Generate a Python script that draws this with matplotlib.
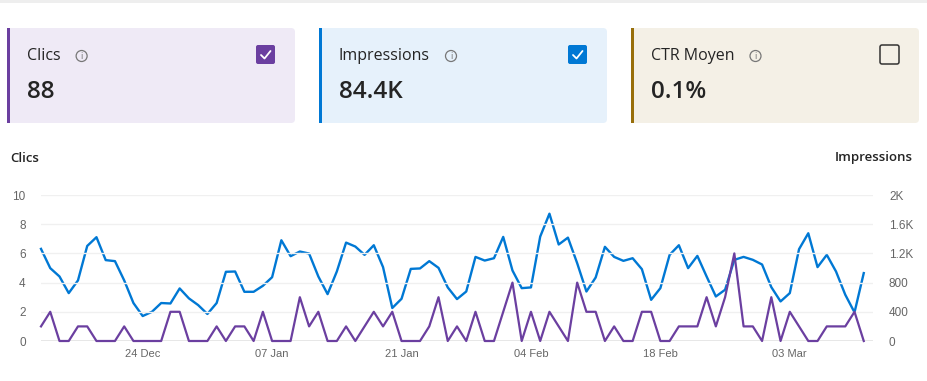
import matplotlib
matplotlib.use("Agg")
import matplotlib.pyplot as plt
import matplotlib.dates as mdates
from matplotlib.patches import FancyBboxPatch, Rectangle, Circle
import pandas as pd

# data (13 Dec 2023 -> 11 Mar 2024, daily)
dates = pd.date_range("2023-12-13", periods=90, freq="D")
clics = [1, 2, 0, 0, 1, 1, 0, 0, 0, 1, 0, 0, 0, 0, 2, 2, 0, 0, 0, 1,
         0, 1, 1, 0, 2, 0, 0, 0, 3, 1, 2, 0, 0, 1, 0, 1, 2, 1, 2, 0,
         0, 0, 1, 3, 0, 1, 0, 2, 0, 0, 2, 4, 0, 2, 0, 2, 1, 0, 4, 2,
         2, 0, 1, 0, 0, 2, 2, 0, 0, 1, 1, 1, 3, 1, 3, 6, 1, 1, 0, 3,
         0, 2, 1, 0, 0, 1, 1, 1, 2, 0]
impressions = [1262, 998, 884, 656, 830, 1302, 1422, 1108, 1094, 830,
               520, 342, 400, 520, 514, 720, 584, 492, 370, 520,
               948, 952, 674, 674, 756, 874, 1380, 1162, 1226, 1198,
               884, 642, 952, 1348, 1294, 1180, 1312, 1012, 452, 578,
               988, 994, 1094, 1002, 734, 574, 678, 1152, 1102, 1134,
               1426, 966, 724, 734, 1430, 1744, 1322, 1416, 1066, 678,
               870, 1290, 1152, 1098, 1134, 984, 564, 724, 1180, 1312,
               998, 1166, 884, 610, 702, 1112, 1152, 1112, 1048, 738,
               542, 656, 1258, 1476, 1012, 1180, 952, 634, 392, 930]
tick_dates = ["2023-12-24", "2024-01-07", "2024-01-21", "2024-02-04", "2024-02-18", "2024-03-03"]
left_ticks = [0, 2, 4, 6, 8, 10]
right_ticks = [0, 400, 800, 1200, 1600, 2000]
right_labels = ["0", "400", "800", "1.2K", "1.6K", "2K"]

cards = [
    ("Clics", "88", "#EFEAF6", "#6B3FA0", True),
    ("Impressions", "84.4K", "#E6F1FB", "#0078D4", True),
    ("CTR Moyen", "0.1%", "#F4F0E6", "#986F0B", False),
]
card_x = [7, 319, 631]
card_w = 288

PURPLE = "#6B3FA0"
BLUE = "#0078D4"
W, H = 927, 381

fig = plt.figure(figsize=(W / 100, H / 100), dpi=100)

# background layer in pixel coordinates
bg = fig.add_axes([0, 0, 1, 1])
bg.set_xlim(0, W)
bg.set_ylim(H, 0)
bg.axis("off")
bg.add_patch(Rectangle((0, 0), W, 3, color="#EEEEEE", lw=0))

for (title, value, face, edge, checked), x0 in zip(cards, card_x):
    bg.add_patch(FancyBboxPatch((x0, 28), card_w, 95, boxstyle="round,pad=0,rounding_size=4",
                                fc=face, ec="none"))
    bg.add_patch(Rectangle((x0, 28), 3, 95, color=edge, lw=0))
    t = bg.text(x0 + 20, 56, title, fontsize=11.5, family="Open Sans", color="#242424",
                va="center", ha="left")
    # info icon placed after the title
    fig.canvas.draw()
    bb = t.get_window_extent()
    ix = bb.x1 + 21
    bg.add_patch(Circle((ix, 56), 5.5, fc="none", ec="#777777", lw=0.9))
    bg.text(ix, 56.5, "i", fontsize=6, color="#777777", ha="center", va="center",
            family="DejaVu Sans")
    bg.text(x0 + 20, 92, value, fontsize=17.5, family="Open Sans", color="#242424",
            va="center", ha="left", fontweight="semibold")
    cx = x0 + 249
    if checked:
        bg.add_patch(FancyBboxPatch((cx, 45), 19, 19, boxstyle="round,pad=0,rounding_size=2",
                                    fc=edge, ec="none"))
        bg.plot([cx + 5, cx + 8.5, cx + 14.5], [55, 58.5, 51], color="white", lw=1.3,
                solid_capstyle="round")
    else:
        bg.add_patch(FancyBboxPatch((cx, 45), 19, 19, boxstyle="round,pad=0,rounding_size=2",
                                    fc="none", ec="#333333", lw=1.1))

bg.text(10, 158, "Clics", fontsize=9.5, family="Open Sans", color="#242424",
        va="center", ha="left", fontweight="semibold")
bg.text(913, 158, "Impressions", fontsize=9.5, family="Open Sans", color="#242424",
        va="center", ha="right", fontweight="semibold")

# main chart
ax = fig.add_axes([41 / W, (H - 341) / H, 832 / W, 146 / H])
ax2 = ax.twinx()

ax2.plot(dates, impressions, color=BLUE, lw=1.7, clip_on=False)
ax.plot(dates, clics, color=PURPLE, lw=1.6, clip_on=False, zorder=3)
ax.set_zorder(ax2.get_zorder() + 1)
ax.patch.set_visible(False)

ax.set_xlim(dates[0], dates[0] + pd.Timedelta(days=90))
ax.set_ylim(0, 10)
ax2.set_ylim(0, 2000)
ax.set_yticks(left_ticks)
ax2.set_yticks(right_ticks)
ax2.set_yticklabels(right_labels)
ax.set_xticks(pd.to_datetime(tick_dates))
ax.xaxis.set_major_formatter(mdates.DateFormatter("%d %b"))

for a in (ax, ax2):
    for s in a.spines.values():
        s.set_visible(False)
    a.tick_params(length=0, labelsize=8.5, labelcolor="#666666")
    for lab in a.get_xticklabels() + a.get_yticklabels():
        lab.set_family("Liberation Sans")
ax.tick_params(axis="x", labelsize=8)
ax.tick_params(axis="y", pad=11)
ax2.tick_params(axis="y", pad=11.5)
ax.tick_params(axis="x", pad=6)

for v in left_ticks[1:]:
    ax.axhline(v, color="#F0F0F0", lw=1, zorder=0)
ax.axhline(0, color="#888888", lw=1, zorder=1)

fig.savefig("out.png", dpi=100)
